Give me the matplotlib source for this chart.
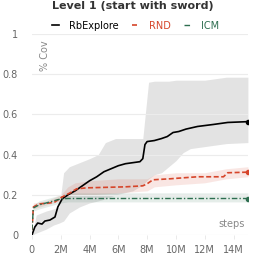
import numpy as np
import matplotlib
matplotlib.use("Agg")
import matplotlib.pyplot as plt
from matplotlib.ticker import FuncFormatter

# RbExplore (steps in millions)
rb_x = [0, 0.2, 0.4, 0.7, 0.9, 1.25, 1.6, 1.8, 2.1, 2.5, 3.0, 3.5, 4.0, 4.5, 5.0, 5.5, 6.0,
        6.5, 7.0, 7.5, 7.7, 7.85, 8.0, 8.5, 9.0, 9.4, 9.8, 10.2, 10.7, 11.5, 12.6, 13.6, 15]
rb_y = [0.0, 0.04, 0.06, 0.055, 0.07, 0.075, 0.09, 0.14, 0.18, 0.2, 0.22, 0.245, 0.27, 0.29,
        0.315, 0.33, 0.345, 0.355, 0.36, 0.365, 0.38, 0.45, 0.465, 0.47, 0.48, 0.49, 0.51,
        0.515, 0.527, 0.54, 0.55, 0.56, 0.564]
rb_band_x = [0, 0.3, 1, 1.5, 1.9, 2.2, 2.6, 3.3, 4, 4.6, 5.1, 5.8, 7, 7.7, 8.1, 8.5, 9, 9.5,
             10, 10.5, 11, 12, 12.5, 13.5, 15]
rb_hi = [0, 0.1, 0.12, 0.13, 0.14, 0.31, 0.34, 0.36, 0.38, 0.40, 0.46, 0.48, 0.48, 0.48, 0.76,
         0.765, 0.765, 0.765, 0.77, 0.77, 0.77, 0.77, 0.775, 0.785, 0.785]
rb_lo = [0, 0.01, 0.03, 0.05, 0.06, 0.07, 0.11, 0.14, 0.16, 0.17, 0.18, 0.2, 0.22, 0.25, 0.28,
         0.3, 0.31, 0.34, 0.37, 0.41, 0.43, 0.44, 0.445, 0.455, 0.46]

# RND
rnd_x = [0, 0.1, 0.5, 1.25, 1.6, 2.1, 2.65, 3.1, 3.8, 6.5, 7.7, 8.0, 8.4, 9.6, 11.5, 13.3, 13.6, 15]
rnd_y = [0.025, 0.14, 0.155, 0.16, 0.165, 0.19, 0.21, 0.23, 0.235, 0.24, 0.245, 0.255, 0.275,
         0.28, 0.29, 0.29, 0.31, 0.313]
rnd_band_x = [0, 0.1, 1, 2, 2.5, 3, 4, 6, 8, 8.5, 10, 12, 13.5, 15]
rnd_hi = [0.03, 0.16, 0.17, 0.2, 0.24, 0.26, 0.27, 0.28, 0.28, 0.3, 0.31, 0.31, 0.33, 0.34]
rnd_lo = [0.02, 0.13, 0.15, 0.17, 0.19, 0.2, 0.2, 0.21, 0.22, 0.24, 0.25, 0.26, 0.28, 0.29]

# ICM
icm_x = [0, 0.1, 0.5, 1, 1.5, 2, 2.5, 15]
icm_y = [0.025, 0.135, 0.15, 0.16, 0.17, 0.18, 0.182, 0.182]
icm_hi = [0.03, 0.15, 0.17, 0.18, 0.19, 0.2, 0.21, 0.21]
icm_lo = [0.02, 0.12, 0.13, 0.14, 0.15, 0.16, 0.165, 0.165]

x_ticks = [0, 2, 4, 6, 8, 10, 12, 14]
y_ticks = [0, 0.2, 0.4, 0.6, 0.8, 1]

c_rb = "black"
c_rnd = "#d6452a"
c_icm = "#2e6e50"

fig = plt.figure(figsize=(2.66, 2.63), dpi=100)
ax = fig.add_axes([0.12, 0.106, 0.812, 0.765])

ax.fill_between(rb_band_x, rb_lo, rb_hi, color="#b0b0b0", alpha=0.35, lw=0)
ax.fill_between(rnd_band_x, rnd_lo, rnd_hi, color=c_rnd, alpha=0.13, lw=0)
ax.fill_between(icm_x, icm_lo, icm_hi, color=c_icm, alpha=0.12, lw=0)

ax.plot(rb_x, rb_y, color=c_rb, lw=1.2, label="RbExplore")
ax.plot(rnd_x, rnd_y, color=c_rnd, lw=1.2, ls=(0, (3, 1.5)), label="RND")
ax.plot(icm_x, icm_y, color=c_icm, lw=1.0, ls=(0, (4, 1.5, 1, 1.5)), label="ICM")
ax.plot(rb_x[-1], rb_y[-1], "o", color=c_rb, ms=3)
ax.plot(rnd_x[-1], rnd_y[-1], "o", color=c_rnd, ms=3)
ax.plot(icm_x[-1], icm_y[-1], "o", color=c_icm, ms=3)

ax.set_xlim(0, 15)
ax.set_ylim(0, 1)
ax.set_xticks(x_ticks)
ax.set_yticks(y_ticks)
ax.xaxis.set_major_formatter(FuncFormatter(lambda v, p: "0" if v == 0 else f"{int(v)}M"))
ax.yaxis.set_major_formatter(FuncFormatter(lambda v, p: f"{v:g}"))
ax.tick_params(axis="y", length=0, pad=10, labelsize=7, labelcolor="#666666")
ax.tick_params(axis="x", length=3, width=0.6, color="#e6e6e6", pad=4, labelsize=7,
               labelcolor="#666666")
ax.grid(axis="y", color="#ececec", lw=0.8)
for s in ["top", "right", "left", "bottom"]:
    ax.spines[s].set_visible(False)

ax.text(0.06, 0.97, "% Cov", transform=ax.transAxes, rotation=90, ha="center", va="top",
        fontsize=7, color="#888888")
ax.text(0.985, 0.03, "steps", transform=ax.transAxes, ha="right", va="bottom",
        fontsize=7, color="#888888")

fig.suptitle("Level 1 (start with sword)", x=0.5, y=0.995, fontsize=8, fontweight="bold",
             color="#333333")
leg = fig.legend(loc="upper center", bbox_to_anchor=(0.51, 0.955), ncol=3, frameon=False,
                 fontsize=7, handlelength=0.7, handletextpad=1.0, columnspacing=1.4)
for txt, c in zip(leg.get_texts(), [c_rb, c_rnd, c_icm]):
    txt.set_color(c)

fig.savefig("out.png", dpi=100)
